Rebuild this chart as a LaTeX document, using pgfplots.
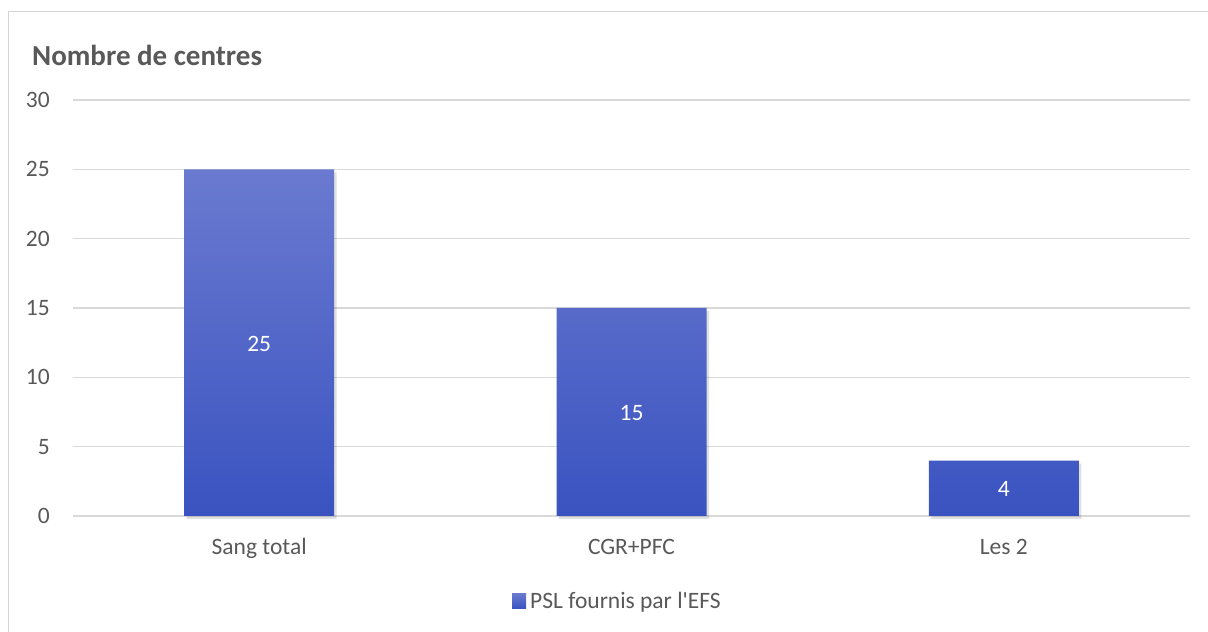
\documentclass[border=0pt]{standalone}
\usepackage{fontspec}
\setmainfont{Carlito}
\usepackage{pgfplots}
\pgfplotsset{compat=1.18}
\usepackage{pgfplotstable}
\definecolor{txt}{HTML}{595959}
\definecolor{gridc}{HTML}{D9D9D9}
\definecolor{frame}{HTML}{D4D4D4}
\definecolor{bartop}{RGB}{106,122,208}
\definecolor{barbot}{RGB}{58,83,192}
\pgfplotstableread{
x y
0 25
1 15
2 4
}\datatab
\begin{document}
\begin{tikzpicture}[x=1pt,y=1pt]
\path[use as bounding box] (0,0) rectangle (1208,632);
\fill[white] (0,0) rectangle (1208,632);
\draw[frame, line width=1.5pt] (8.5,-5) -- (8.5,620.5) -- (1215,620.5);
\node[anchor=west, inner sep=0pt, text=txt, font=\bfseries\fontsize{29}{34}\selectfont] at (32,577) {Nombre de centres};
\begin{axis}[
  at={(73pt,116pt)}, anchor=south west,
  scale only axis, width=1117pt, height=416pt,
  xmin=-0.5, xmax=2.5, ymin=0, ymax=30,
  ytick={0,5,10,15,20,25,30},
  xtick={0,1,2}, xticklabels={Sang total, CGR+PFC, Les 2},
  axis line style={draw=none},
  tick style={draw=none}, major tick length=0pt,
  ymajorgrids, grid style={gridc, line width=1.5pt},
  /pgf/number format/assume math mode=true,
  ticklabel style={text=txt, font=\fontsize{23.5}{28}\selectfont},
  yticklabel style={anchor=east, inner sep=0pt, xshift=-23pt},
  xticklabel style={anchor=base, inner sep=0pt, yshift=-38pt},
  bar width=150pt,
  legend style={at={(0.4874,0)}, anchor=center, yshift=-85pt, draw=none, fill=none,
    font=\fontsize{23.5}{28}\selectfont, text=txt, inner sep=0pt,
    nodes={inner sep=2pt}},
  legend image code/.code={\fill[top color=bartop, bottom color=barbot] (0pt,-7.5pt) rectangle (14pt,7.5pt);},
  clip=false,
]
\addplot[ybar, bar shift=0pt, draw=none, fill=black, fill opacity=0.12, xshift=2.5pt, yshift=-3pt, forget plot] table[x=x, y=y] {\datatab};
\addplot[ybar, bar shift=0pt, draw=none, top color=bartop, bottom color=barbot] table[x=x, y=y] {\datatab};
\addlegendentry{\hspace{2pt}PSL fournis par l\textquotesingle EFS}
\addplot[draw=none, mark=none, forget plot, point meta=explicit,
  nodes near coords,
  every node near coord/.append style={anchor=center, text=white, font=\fontsize{23.5}{28}\selectfont, yshift=-1pt}]
  table[x=x, y expr=\thisrow{y}/2, meta=y] {\datatab};
\end{axis}
\end{tikzpicture}
\end{document}
